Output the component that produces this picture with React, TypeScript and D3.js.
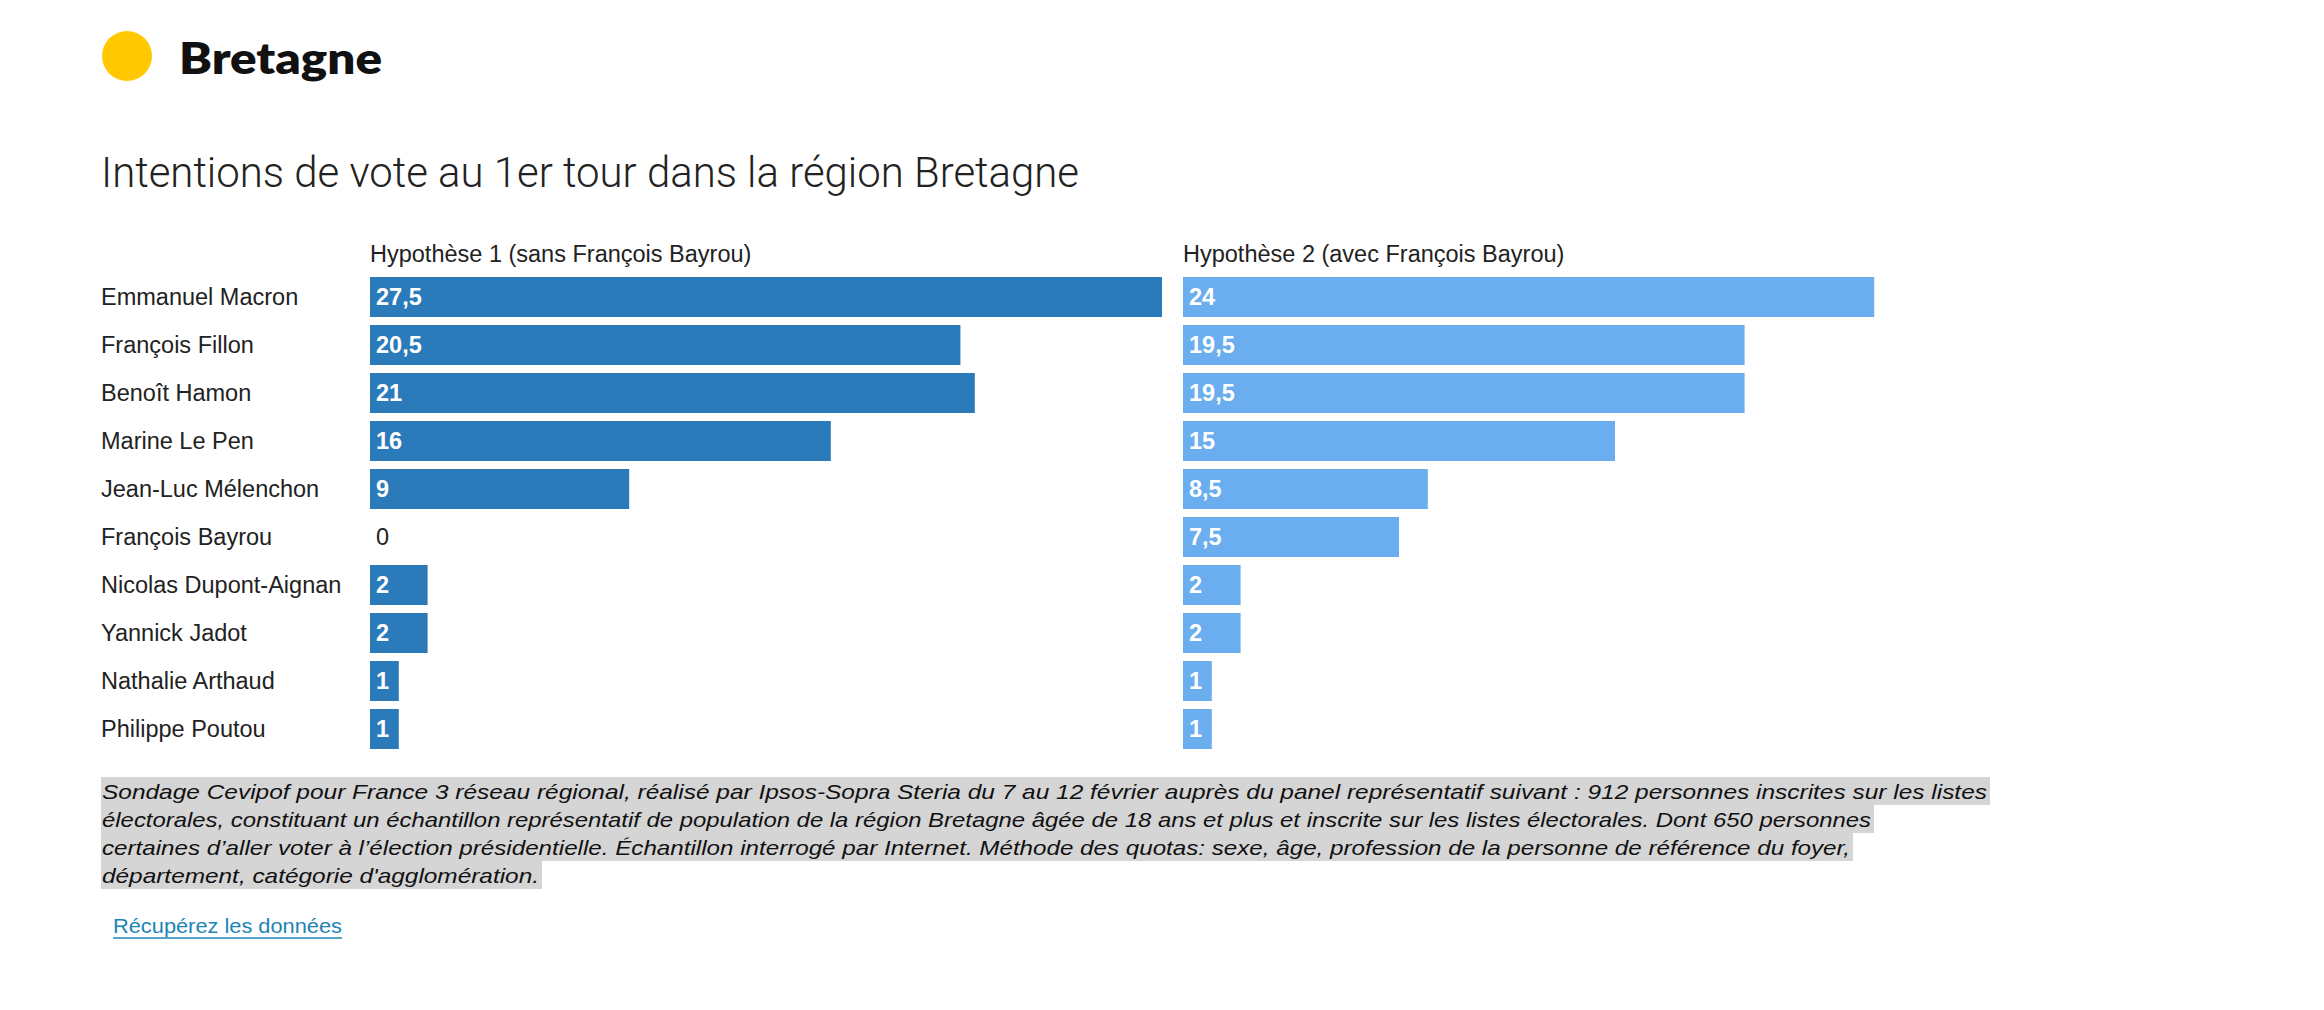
import React from 'react';
import * as d3 from 'd3';

// vote intentions, Bretagne, two hypotheses side by side
const candidates = [
  "Emmanuel Macron",
  "François Fillon",
  "Benoît Hamon",
  "Marine Le Pen",
  "Jean-Luc Mélenchon",
  "François Bayrou",
  "Nicolas Dupont-Aignan",
  "Yannick Jadot",
  "Nathalie Arthaud",
  "Philippe Poutou",
];
const hyp1 = [27.5, 20.5, 21, 16, 9, 0, 2, 2, 1, 1];
const hyp2 = [24, 19.5, 19.5, 15, 8.5, 7.5, 2, 2, 1, 1];
const panelTitles = ["Hypothèse 1 (sans François Bayrou)", "Hypothèse 2 (avec François Bayrou)"];

const noteLines = [
  "Sondage Cevipof pour France 3 réseau régional, réalisé par Ipsos-Sopra Steria du 7 au 12 février auprès du panel représentatif suivant : 912 personnes inscrites sur les listes",
  "électorales, constituant un échantillon représentatif de population de la région Bretagne âgée de 18 ans et plus et inscrite sur les listes électorales. Dont 650 personnes",
  "certaines d’aller voter à l’élection présidentielle. Échantillon interrogé par Internet. Méthode des quotas: sexe, âge, profession de la personne de référence du foyer,",
  "département, catégorie d'agglomération.",
];
const noteWidths = [1885, 1769, 1748, 437];

const width = 2324;
const height = 1010;
const font = "'Liberation Sans', Arial, sans-serif";

function App() {
  const x = d3.scaleLinear().domain([0, 27.5]).range([0, 792]);
  const y = d3.scaleBand()
    .domain(candidates)
    .range([273, 753])
    .paddingInner(1 / 6)
    .paddingOuter(1 / 12);

  const panels = [
    { x0: 370, values: hyp1, color: "#2b7bba", title: panelTitles[0] },
    { x0: 1183, values: hyp2, color: "#6aaeef", title: panelTitles[1] },
  ];

  const fmt = (v: number) => String(v).replace(".", ",");

  return (
    <svg width={width} height={height} style={{ position: "absolute", left: 0, top: 0 }}
      fontFamily={font}>
      <circle cx={127} cy={56} r={25} fill="#ffc800" />
      <text x={179} y={74} fontFamily="Lato, 'Open Sans', sans-serif" fontWeight={800} fontSize={44}
        fill="#111" textLength={203} lengthAdjust="spacingAndGlyphs">Bretagne</text>

      <text x={101} y={187} fontFamily="Roboto, sans-serif" fontWeight={300} fontSize={42}
        fill="#222" textLength={978} lengthAdjust="spacingAndGlyphs">
        Intentions de vote au 1er tour dans la région Bretagne
      </text>

      {candidates.map(c => (
        <text key={c} x={101} y={y(c)! + y.bandwidth() / 2} dy="0.35em" fontSize={23.5} fill="#222">{c}</text>
      ))}

      {panels.map((p, i) => (
        <g key={i} transform={`translate(${p.x0},0)`}>
          <text x={0} y={262} fontSize={23.5} fill="#222">{p.title}</text>
          {candidates.map((c, j) => {
            const v = p.values[j];
            return (
              <g key={c}>
                {v > 0 && <rect x={x(0)} y={y(c)} width={x(v) - x(0)} height={y.bandwidth()} fill={p.color} />}
                <text x={x(0) + 6} y={y(c)! + y.bandwidth() / 2} dy="0.35em" fontSize={23.5}
                  fontWeight={v > 0 ? 700 : 400} fill={v > 0 ? "#fff" : "#222"}>{fmt(v)}</text>
              </g>
            );
          })}
        </g>
      ))}

      {noteLines.map((line, i) => (
        <g key={i}>
          <rect x={101} y={777 + i * 28} width={noteWidths[i] + 4} height={28} fill="#d5d5d5" />
          <text x={102} y={799 + i * 28} fontSize={21} fontStyle="italic" fill="#111"
            textLength={noteWidths[i]} lengthAdjust="spacingAndGlyphs">{line}</text>
        </g>
      ))}

      <text x={113} y={933} fontSize={21} fill="#1d84b5" textLength={229} lengthAdjust="spacingAndGlyphs">
        Récupérez les données
      </text>
      <line x1={113} x2={342} y1={938} y2={938} stroke="#1d84b5" strokeWidth={1.5} />
    </svg>
  );
}

export default App;
